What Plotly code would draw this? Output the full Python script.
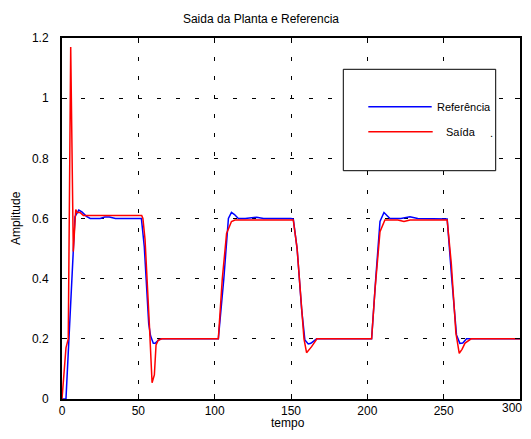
import plotly.graph_objects as go

# ---- data ----
ref_t = [0, 2.6, 8.5, 11, 13, 16, 18.5, 25, 28, 31, 35, 40, 52, 53.9, 56.8, 58, 59.8, 61, 63, 65,
         100, 102.4, 106, 109, 111, 113, 115.5, 120, 127.5, 132, 150, 151.5, 154, 157, 159.1, 161.3,
         163, 166.8, 200, 202.8, 205.5, 208.3, 210.9, 212.5, 214.8, 222, 227.9, 233, 250, 252.3,
         255.2, 258.4, 260.6, 262.5, 265, 300]
ref_y = [0, 0, 0.606, 0.628, 0.622, 0.607, 0.6, 0.6, 0.605, 0.605, 0.6, 0.6, 0.6, 0.506, 0.25, 0.21,
         0.185, 0.185, 0.195, 0.2,
         0.2, 0.2, 0.4, 0.6, 0.62, 0.613, 0.6, 0.6, 0.604, 0.6, 0.6, 0.598, 0.5, 0.296, 0.196, 0.183,
         0.185, 0.2, 0.2, 0.2, 0.4, 0.59, 0.62, 0.612, 0.6, 0.6, 0.606, 0.6, 0.6, 0.598,
         0.406, 0.213, 0.185, 0.186, 0.2, 0.2]

out_t = [0, 2.6, 4.1, 5.7, 7.4, 9, 10, 11.8, 14, 52.2, 53, 54.4, 57.2, 58.3, 59, 60.5, 61.6, 63, 65.3,
         100, 102.4, 105, 107.8, 111, 113.3, 150, 151.5, 154, 157, 158.5, 160.2, 163.5, 167,
         200, 202.8, 205, 208.3, 211.5, 220, 224, 228, 252.3, 255, 258, 260.2, 262, 264, 268, 300]
out_y = [0, 0.17, 0.2, 1.17, 0.49, 0.63, 0.62, 0.62, 0.61, 0.61, 0.6, 0.53, 0.25, 0.14, 0.054, 0.08,
         0.18, 0.195, 0.2,
         0.2, 0.2, 0.4, 0.55, 0.59, 0.595, 0.595, 0.595, 0.5, 0.3, 0.2, 0.154, 0.174, 0.2,
         0.2, 0.2, 0.362, 0.556, 0.595, 0.595, 0.59, 0.595, 0.595, 0.45, 0.22, 0.152, 0.165, 0.186, 0.2, 0.2]

x_ticks = [0, 50, 100, 150, 200, 250, 300]
x_ticktext = ["0", "50", "100", "150", "200", "250", "300"]
y_ticks = [0, 0.2, 0.4, 0.6, 0.8, 1.0, 1.2]
y_ticktext = ["0", "0.2", "0.4", "0.6", "0.8", "1", "1.2"]

title_text = "Saida da Planta e Referencia"
xlabel = "tempo"
ylabel = "Amplitude"
legend_names = ["Referência", "Saída"]

# ---- layout geometry (page pixels; the page body adds an 8px margin) ----
OFF = 8
PAGE_W, PAGE_H = 531, 439
W, H = PAGE_W - 2 * OFF, PAGE_H - 2 * OFF
L, T = 62 - OFF, 38 - OFF
R = W - (520 - OFF)
B = H - (399 - OFF)
PW, PH = W - L - R, H - T - B


def px(x):
    return (x - OFF - L) / PW


def py(y):
    return (H - B - (y - OFF)) / PH


FONT = "Arial, Liberation Sans, sans-serif"
TICK_FONT = dict(family=FONT, size=12, color="black")

fig = go.Figure()
fig.add_trace(go.Scatter(x=ref_t, y=ref_y, mode="lines", line=dict(color="#0000FF", width=1.5),
                         name=legend_names[0], showlegend=False))
fig.add_trace(go.Scatter(x=out_t, y=out_y, mode="lines", line=dict(color="#FF0000", width=1.5),
                         name=legend_names[1], showlegend=False))

axis_common = dict(
    showline=True, linecolor="black", linewidth=2, mirror="ticks",
    ticks="inside", ticklen=5, tickcolor="black", tickwidth=1,
    showgrid=True, gridcolor="black", gridwidth=1, griddash="4px,15px",
    zeroline=False, automargin=False, tickfont=TICK_FONT,
)

# last x label is written separately so that it stays inside the visible page
fig.update_xaxes(range=[0, 300], tickvals=x_ticks, ticktext=x_ticktext[:-1] + [""],
                 ticklabelstandoff=0, **axis_common)
fig.update_yaxes(range=[0, 1.2], tickvals=y_ticks, ticktext=y_ticktext, ticklabelstandoff=9,
                 **axis_common)

shapes = [
    dict(type="rect", xref="paper", yref="paper", x0=px(343.3), x1=px(495.7), y0=py(170.7),
         y1=py(69.3), fillcolor="white", line=dict(color="black", width=1), layer="above"),
    dict(type="line", xref="paper", yref="paper", x0=px(368.3), x1=px(431.7), y0=py(106.7),
         y1=py(106.7), line=dict(color="#0000FF", width=1.5), layer="above"),
    dict(type="line", xref="paper", yref="paper", x0=px(368.3), x1=px(432.7), y0=py(131.7),
         y1=py(131.7), line=dict(color="#FF0000", width=1.5), layer="above"),
]

ann_font = dict(family=FONT, size=11, color="black")
annotations = [
    dict(text=legend_names[0], x=px(435), y=py(106.7), xref="paper", yref="paper",
         xanchor="left", yanchor="middle", showarrow=False, font=ann_font),
    dict(text=legend_names[1], x=px(444), y=py(131.7), xref="paper", yref="paper",
         xanchor="left", yanchor="middle", showarrow=False, font=ann_font),
    dict(text=".", x=px(488), y=py(133), xref="paper", yref="paper",
         xanchor="left", yanchor="middle", showarrow=False, font=ann_font),
    dict(text=x_ticktext[-1], x=px(523), y=py(399.5), xref="paper", yref="paper",
         xanchor="right", yanchor="top", showarrow=False, font=TICK_FONT,
         borderpad=0),
    dict(text=xlabel, x=px(288), y=py(431), xref="paper", yref="paper",
         xanchor="center", yanchor="bottom", showarrow=False, borderpad=0,
         font=dict(family=FONT, size=12, color="black")),
    dict(text=ylabel, x=px(16), y=py(218), xref="paper", yref="paper", textangle=-90,
         xanchor="center", yanchor="middle", showarrow=False,
         font=dict(family=FONT, size=12, color="black")),
]

fig.update_layout(
    width=W, height=H,
    margin=dict(l=L, r=R, t=T, b=B),
    paper_bgcolor="white", plot_bgcolor="white",
    title=dict(text=title_text, x=(261 - OFF) / W, xref="container", xanchor="center",
               y=1 - (18.5 - OFF) / H, yref="container", yanchor="middle",
               font=dict(family=FONT, size=12, color="black")),
    shapes=shapes, annotations=annotations, showlegend=False,
)

fig.write_html("out.html")
